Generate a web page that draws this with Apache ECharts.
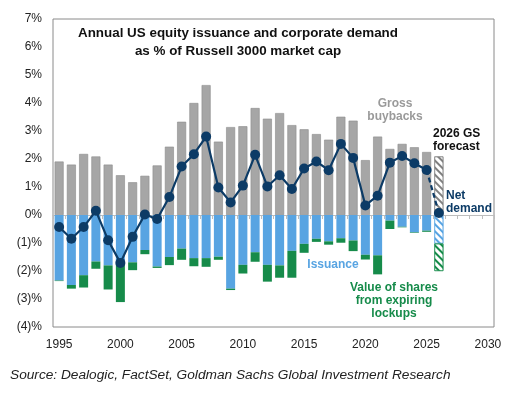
<!DOCTYPE html>
<html lang="en" style="height: 100%">
<head>
  <meta charset="utf-8">
  <title>Annual US equity issuance and corporate demand</title>
  <script type="text/javascript" src="https://fastly.jsdelivr.net/npm/echarts@6/dist/echarts.min.js"></script>
</head>
<body style="height: 100%; margin: 0; background: #fff">
  <div id="chart" style="height: 100%"></div>

  <script type="text/javascript">
    var dom = document.getElementById('chart');
    var myChart = echarts.init(dom);

    // years on the axis, 1995-2030
    let years = [];
    for (let y = 1995; y <= 2030; y++) years.push(String(y));

    // history 1995-2025, % of Russell 3000 market cap
    let buybacks = [1.91, 1.80, 2.18, 2.09, 1.80, 1.42, 1.17, 1.40, 1.77, 2.44,
      3.33, 4.00, 4.64, 2.62, 3.14, 3.17, 3.82, 3.44, 3.64, 3.21,
      3.06, 2.89, 2.69, 3.51, 3.37, 1.96, 2.80, 2.36, 2.54, 2.42, 2.25];
    let issuance = [-2.34, -2.50, -2.15, -1.66, -1.80, -1.75, -1.69, -1.25, -1.84, -1.50,
      -1.20, -1.54, -1.54, -1.49, -2.63, -1.78, -1.33, -1.78, -1.80, -1.28,
      -1.03, -0.85, -0.94, -0.83, -0.91, -1.42, -1.44, -0.20, -0.42, -0.62, -0.56];
    let lockups = [-0.02, -0.13, -0.44, -0.26, -0.86, -1.36, -0.28, -0.15, -0.05, -0.29,
      -0.40, -0.29, -0.31, -0.11, -0.05, -0.31, -0.34, -0.60, -0.44, -0.96,
      -0.32, -0.11, -0.12, -0.16, -0.38, -0.17, -0.68, -0.30, -0.02, -0.02, -0.04];
    let netDemand = [-0.43, -0.85, -0.43, 0.15, -0.90, -1.71, -0.78, 0.02, -0.14, 0.64,
      1.73, 2.17, 2.80, 0.98, 0.45, 1.05, 2.15, 1.02, 1.42, 0.93,
      1.66, 1.91, 1.60, 2.54, 2.04, 0.34, 0.69, 1.87, 2.11, 1.85, 1.61];

    // 2026 GS forecast
    let fcYear = '2026';
    let fcBuybacks = 2.09;
    let fcIssuance = -1.02;
    let fcLockups = -0.98;
    let fcNet = 0.07;

    let yTicks = [-4, -3, -2, -1, 0, 1, 2, 3, 4, 5, 6, 7];

    const FONT = '"Liberation Sans", Arial, sans-serif';
    const GRAY = '#a6a6a6', BLUE = '#58a4e2', GREEN = '#168b4a', NAVY = '#0c3b66';
    const fcIdx = years.indexOf(fcYear);

    function hatch(color) {
      return {
        color: '#fff',
        borderColor: color,
        borderWidth: 0.6,
        decal: {
          symbol: 'rect',
          symbolSize: 1,
          dashArrayX: [1, 0],
          dashArrayY: [2, 2.5],
          rotation: Math.PI / 4,
          color: color
        }
      };
    }

    function withForecast(hist, fc, color) {
      let out = years.map((y, i) => i < hist.length ? hist[i] : null);
      out[fcIdx] = { value: fc, itemStyle: hatch(color) };
      return out;
    }

    let netSolid = years.map((y, i) => i < netDemand.length ? netDemand[i] : null);
    let netDashed = years.map(() => null);
    netDashed[fcIdx - 1] = { value: netDemand[netDemand.length - 1], symbol: 'none' };
    netDashed[fcIdx] = fcNet;

    let option = {
      animation: false,
      textStyle: { fontFamily: FONT },
      grid: {
        left: 53, right: 19, top: 19, bottom: 73,
        show: true, borderColor: '#8a8a8a', borderWidth: 1
      },
      xAxis: [
        {
          type: 'category',
          data: years,
          axisLine: { onZero: true, lineStyle: { color: '#bdbdbd', width: 1 } },
          axisTick: { show: true, interval: 0, length: 4, lineStyle: { color: '#bdbdbd' } },
          axisLabel: { show: false }
        },
        {
          type: 'category',
          data: years,
          position: 'bottom',
          axisLine: { show: false, onZero: false },
          axisTick: { show: false },
          axisLabel: {
            interval: (i) => i % 5 === 0,
            color: '#222', fontSize: 12, margin: 12, fontFamily: FONT
          }
        }
      ],
      yAxis: {
        type: 'value',
        min: yTicks[0],
        max: yTicks[yTicks.length - 1],
        interval: 1,
        axisLine: { show: false },
        axisTick: { show: false },
        splitLine: { show: false },
        axisLabel: {
          color: '#222', fontSize: 12, margin: 11, fontFamily: FONT,
          formatter: v => v < 0 ? '(' + (-v) + ')%' : v + '%'
        }
      },
      series: [
        {
          name: 'Gross buybacks', type: 'bar', stack: 'flow', barWidth: 9,
          data: withForecast(buybacks, fcBuybacks, '#808080'),
          itemStyle: { color: GRAY, borderColor: '#8c8c8c', borderWidth: 0.6 }
        },
        {
          name: 'Issuance', type: 'bar', stack: 'flow', barWidth: 9,
          data: withForecast(issuance, fcIssuance, BLUE),
          itemStyle: { color: BLUE }
        },
        {
          name: 'Lockups', type: 'bar', stack: 'flow', barWidth: 9,
          data: withForecast(lockups, fcLockups, GREEN),
          itemStyle: { color: GREEN }
        },
        {
          name: 'Net demand', type: 'line', data: netSolid,
          symbol: 'circle', symbolSize: 10, showAllSymbol: true, z: 5,
          lineStyle: { color: NAVY, width: 2.2 },
          itemStyle: { color: NAVY }
        },
        {
          name: 'Net demand forecast', type: 'line', data: netDashed,
          symbol: 'circle', symbolSize: 10, showAllSymbol: true, z: 5,
          lineStyle: { color: NAVY, width: 2.2, type: [5, 3] },
          itemStyle: { color: NAVY }
        }
      ],
      graphic: [
        {
          type: 'text', x: 238, y: 42,
          style: {
            text: 'Annual US equity issuance and corporate demand\nas % of Russell 3000 market cap',
            font: 'bold 13.4px ' + FONT, fill: '#111', align: 'center', verticalAlign: 'middle',
            lineHeight: 18
          }
        },
        {
          type: 'text', x: 395, y: 110,
          style: {
            text: 'Gross\nbuybacks', font: 'bold 12px ' + FONT, fill: '#9a9a9a',
            align: 'center', verticalAlign: 'middle', lineHeight: 13
          }
        },
        {
          type: 'text', x: 433, y: 140,
          style: {
            text: '2026 GS\nforecast', font: 'bold 12px ' + FONT, fill: '#111',
            align: 'left', verticalAlign: 'middle', lineHeight: 13
          }
        },
        {
          type: 'text', x: 446, y: 202,
          style: {
            text: 'Net\ndemand', font: 'bold 12px ' + FONT, fill: NAVY,
            align: 'left', verticalAlign: 'middle', lineHeight: 13
          }
        },
        {
          type: 'text', x: 333, y: 265,
          style: {
            text: 'Issuance', font: 'bold 12px ' + FONT, fill: BLUE,
            align: 'center', verticalAlign: 'middle'
          }
        },
        {
          type: 'text', x: 394, y: 301,
          style: {
            text: 'Value of shares\nfrom expiring\nlockups', font: 'bold 12px ' + FONT, fill: GREEN,
            align: 'center', verticalAlign: 'middle', lineHeight: 13
          }
        },
        {
          type: 'text', x: 10, y: 375,
          style: {
            text: 'Source: Dealogic, FactSet, Goldman Sachs Global Investment Research',
            font: 'italic 13.7px ' + FONT, fill: '#222', align: 'left', verticalAlign: 'middle'
          }
        }
      ]
    };

    myChart.setOption(option);
  </script>
</body>
</html>
